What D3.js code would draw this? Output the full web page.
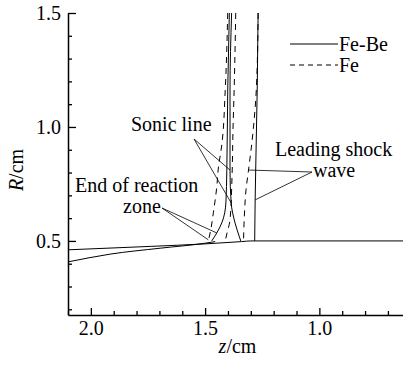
<!DOCTYPE html>
<html>
<head>
<meta charset="utf-8">
<script src="https://cdn.jsdelivr.net/npm/d3@7"></script>
<style>
  html, body { margin: 0; padding: 0; background: #fff; }
  svg text { font-family: "Liberation Serif", "DejaVu Serif", "Times New Roman", Times, serif; fill: #000; }
</style>
</head>
<body>
<svg id="chart" width="403" height="367"></svg>
<script>
// Axis ranges and ticks
const zDomain = [2.1, 0.634];
const rDomain = [0.175, 1.5];
const zMajorTicks = [2.0, 1.5, 1.0];
const zMinorTicks = [2.1, 1.9, 1.8, 1.7, 1.6, 1.4, 1.3, 1.2, 1.1, 0.9, 0.8, 0.7];
const rMajorTicks = [0.5, 1.0, 1.5];
const rMinorTicks = [0.2, 0.3, 0.4, 0.6, 0.7, 0.8, 0.9, 1.1, 1.2, 1.3, 1.4];

// Fe-Be (solid) curves: [z, R]
const feBeShock = [[1.268, 1.5], [1.272, 1.162], [1.277, 0.899], [1.281, 0.680], [1.283, 0.5]];
const feBeSonic = [[1.384, 1.5], [1.391, 1.162], [1.391, 0.811], [1.386, 0.667], [1.369, 0.579], [1.350, 0.518], [1.344, 0.5]];
const feBeReactionEnd = [[1.394, 1.5], [1.401, 1.162], [1.405, 0.811], [1.409, 0.667], [1.427, 0.579], [1.449, 0.535], [1.471, 0.5]];

// Fe (dashed) curves: [z, R]
const feShock = [[1.268, 1.5], [1.275, 1.184], [1.294, 0.943], [1.310, 0.811], [1.321, 0.724], [1.328, 0.614], [1.332, 0.5]];
const feSonic = [[1.366, 1.5], [1.373, 1.162], [1.378, 0.987], [1.382, 0.789], [1.391, 0.592], [1.404, 0.535], [1.412, 0.5]];
const feReactionEnd = [[1.401, 1.5], [1.412, 1.162], [1.427, 0.921], [1.442, 0.820], [1.449, 0.737], [1.464, 0.623], [1.478, 0.535], [1.486, 0.5]];

// Wall / interface lines (solid)
const wallUpper = [[2.1, 0.461], [1.74, 0.476], [1.5, 0.487], [1.34, 0.497], [1.30, 0.5], [0.634, 0.5]];
const wallLower = [[2.1, 0.408], [1.916, 0.442], [1.697, 0.468], [1.5, 0.490], [1.456, 0.497]];

const legendItems = [
  { label: "Fe-Be", dash: null },
  { label: "Fe", dash: "5,4" }
];

const FONT = '"Liberation Serif", "DejaVu Serif", "Times New Roman", Times, serif';
const margin = { left: 68, right: 0, top: 13, bottom: 52 };
const W = 403, H = 367;
const svg = d3.select("#chart");

const x = d3.scaleLinear().domain(zDomain).range([margin.left, W - margin.right]);
const y = d3.scaleLinear().domain(rDomain).range([H - margin.bottom, margin.top]);

svg.append("defs").append("clipPath").attr("id", "plotClip")
  .append("rect")
  .attr("x", margin.left).attr("y", margin.top - 1)
  .attr("width", W - margin.left - margin.right)
  .attr("height", H - margin.bottom - margin.top + 1);

const line = d3.line()
  .x(d => x(d[0]))
  .y(d => y(d[1]))
  .curve(d3.curveMonotoneY);

const lineX = d3.line()
  .x(d => x(d[0]))
  .y(d => y(d[1]))
  .curve(d3.curveMonotoneX);

const plot = svg.append("g").attr("clip-path", "url(#plotClip)");

const solidCurves = [feBeShock, feBeSonic, feBeReactionEnd];
const dashedCurves = [feShock, feSonic, feReactionEnd];

plot.selectAll(".solid").data(solidCurves).enter().append("path")
  .attr("class", "solid")
  .attr("d", line)
  .attr("fill", "none").attr("stroke", "#000").attr("stroke-width", 1);

plot.selectAll(".dashed").data(dashedCurves).enter().append("path")
  .attr("class", "dashed")
  .attr("d", line)
  .attr("fill", "none").attr("stroke", "#000").attr("stroke-width", 1)
  .attr("stroke-dasharray", "6,5");

plot.selectAll(".wall").data([wallUpper, wallLower]).enter().append("path")
  .attr("class", "wall")
  .attr("d", lineX)
  .attr("fill", "none").attr("stroke", "#000").attr("stroke-width", 1);

// Axes
const fontSize = 20;
const bottomY = H - margin.bottom;

svg.append("g").attr("transform", `translate(0,${bottomY})`)
  .call(d3.axisBottom(x).tickValues(zMajorTicks).tickSizeInner(-7).tickSizeOuter(0)
    .tickPadding(6).tickFormat(d3.format(".1f")));
svg.append("g").attr("transform", `translate(0,${bottomY})`)
  .call(d3.axisBottom(x).tickValues(zMinorTicks).tickSizeInner(-4).tickSizeOuter(0).tickFormat(""))
  .call(g => g.select(".domain").remove());

svg.append("g").attr("transform", `translate(${margin.left},0)`)
  .call(d3.axisLeft(y).tickValues(rMajorTicks).tickSizeInner(-8).tickSizeOuter(0)
    .tickPadding(7).tickFormat(d3.format(".1f")));
svg.append("g").attr("transform", `translate(${margin.left},0)`)
  .call(d3.axisLeft(y).tickValues(rMinorTicks).tickSizeInner(-4).tickSizeOuter(0).tickFormat(""))
  .call(g => g.select(".domain").remove());

svg.selectAll("g").attr("font-family", FONT);
svg.selectAll(".domain").attr("stroke", "#000").attr("stroke-width", 1.5);
svg.selectAll(".tick line").attr("stroke", "#000").attr("stroke-width", 1.3);
svg.selectAll(".tick text")
  .attr("font-family", FONT)
  .attr("font-size", fontSize).attr("fill", "#000");

// Axis titles
const zTitle = svg.append("text")
  .attr("x", (margin.left + W - margin.right) / 2 + 2)
  .attr("y", 353)
  .attr("text-anchor", "middle")
  .attr("font-family", FONT)
  .attr("font-size", fontSize);
zTitle.append("tspan").attr("font-style", "italic").text("z");
zTitle.append("tspan").text("/cm");

const rTitle = svg.append("text")
  .attr("transform", `translate(23,170) rotate(-90)`)
  .attr("text-anchor", "middle")
  .attr("font-family", FONT)
  .attr("font-size", fontSize);
rTitle.append("tspan").attr("font-style", "italic").text("R");
rTitle.append("tspan").text("/cm");

// Legend
const legend = svg.append("g").attr("transform", "translate(290,44)");
legendItems.forEach((item, i) => {
  const g = legend.append("g").attr("transform", `translate(0,${i * 21})`);
  g.append("line").attr("x1", 0).attr("x2", 48).attr("y1", 0).attr("y2", 0)
    .attr("stroke", "#000").attr("stroke-width", 1)
    .attr("stroke-dasharray", item.dash);
  g.append("text").attr("x", 49).attr("y", 7)
    .attr("font-family", FONT).attr("font-size", fontSize).text(item.label);
});

// Annotations
const ann = svg.append("g");
function leader(from, to) {
  ann.append("line")
    .attr("x1", from[0]).attr("y1", from[1]).attr("x2", to[0]).attr("y2", to[1])
    .attr("stroke", "#000").attr("stroke-width", 0.8);
}
function label(xp, yp, s) {
  ann.append("text").attr("x", xp).attr("y", yp)
    .attr("font-family", FONT).attr("font-size", fontSize).text(s);
}
function pt(curve, r) {
  // position on a drawn curve at radius r (using nearest listed point)
  const p = curve.reduce((a, b) => Math.abs(b[1] - r) < Math.abs(a[1] - r) ? b : a);
  return [x(p[0]), y(p[1])];
}

label(131, 131, "Sonic line");
leader([194, 139], pt(feBeSonic, 0.811));
leader([194, 139], pt(feBeSonic, 0.667));

label(75, 192, "End of reaction");
label(123, 213, "zone");
leader([162, 208], pt(feBeReactionEnd, 0.535));
leader([162, 208], [x(1.486), y(0.505)]);

label(275, 156, "Leading shock");
label(313, 177, "wave");
leader([312, 172], pt(feShock, 0.811));
leader([312, 172], pt(feBeShock, 0.680));
</script>
</body>
</html>
